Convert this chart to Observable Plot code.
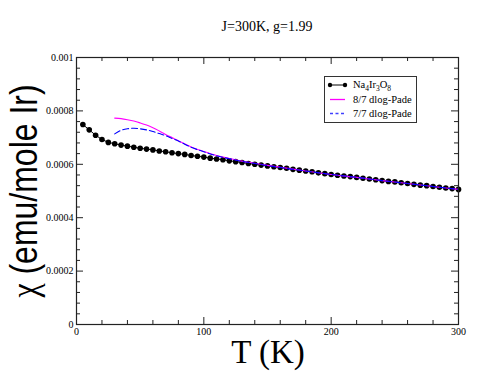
<!DOCTYPE html>
<html>
<head>
<meta charset="utf-8">
<script src="https://cdn.jsdelivr.net/npm/d3@7"></script>
<script src="https://cdn.jsdelivr.net/npm/@observablehq/plot@0.6"></script>
<style>
  html, body { margin: 0; padding: 0; background: #fff; }
</style>
</head>
<body>
<div id="chart"></div>
<script>
// ---- data ----
const temps = [5,10,15,20,25,30,35,40,45,50,55,60,65,70,75,80,85,90,95,100,
  105,110,115,120,125,130,135,140,145,150,155,160,165,170,175,180,185,190,195,200,
  205,210,215,220,225,230,235,240,245,250,255,260,265,270,275,280,285,290,295,300];
const chiMeasured = [749,729,709,693,682,677,672,668,664,660,657,654,650,647,643,640,637,633,630,627,
  623,620,617,613,610,607,603,600,597,594,591,588,585,581,578,575,572,568,565,562,
  559,556,554,551,548,545,542,539,536,534,531,528,525,522,520,517,514,511,509,506]; // x 1e-6

const padeTemps = [30,35,40,45,50,55,60,65,70,75,80,90,100,110,120,130,140,150,160,170,180,200,220,240,260,280,300];
const pade87 = [773,771,767,762,755,747,737,725,712,700,688,665,648,633,622,612,604,596,589,582,575,562,551,539,528,517,506];
const pade77 = [714,727,733,735,733,729,723,715,707,697,687,664,647,632,621,611,603,595,588,581,575,562,551,539,528,517,506];

const xTicks = [0, 100, 200, 300];
const xTickLabels = ["0", "100", "200", "300"];
const yTicks = [0, 0.0002, 0.0004, 0.0006, 0.0008, 0.001];
const yTickLabels = ["0", "0.0002", "0.0004", "0.0006", "0.0008", "0.001"];
const xMinor = [20,40,60,80,120,140,160,180,220,240,260,280];
const yMinor = [0.00004,0.00008,0.00012,0.00016,0.00024,0.00028,0.00032,0.00036,
  0.00044,0.00048,0.00052,0.00056,0.00064,0.00068,0.00072,0.00076,0.00084,0.00088,0.00092,0.00096];

const title = "J=300K, g=1.99";
const xLabel = "T (K)";
const yLabelSymbol = "\u03c7";
const yLabelRest = " (emu/mole Ir)";
const seriesNames = ["8/7 dlog-Pade", "7/7 dlog-Pade"];

// ---- tables ----
const measured = temps.map((t, i) => ({T: t, chi: chiMeasured[i] * 1e-6}));
const p87 = padeTemps.map((t, i) => ({T: t, chi: pade87[i] * 1e-6}));
const p77 = padeTemps.map((t, i) => ({T: t, chi: pade77[i] * 1e-6}));

const W = 494, H = 382;
const mTop = 57, mBottom = 58, mLeft = 76, mRight = 36;
const innerH = H - mTop - mBottom, innerW = W - mLeft - mRight;
const major = 7, minor = 4;
const serif = "'Liberation Serif', 'DejaVu Serif', serif";
const sans = "'Liberation Sans', Arial, sans-serif";

const svg = Plot.plot({
  width: W, height: H,
  marginTop: mTop, marginBottom: mBottom, marginLeft: mLeft, marginRight: mRight,
  style: {fontFamily: serif, fontSize: "10px", background: "#fff", color: "#000"},
  x: {domain: [0, 300]},
  y: {domain: [0, 0.001]},
  marks: [
    Plot.axisX({ticks: xTicks, tickSize: 0, tickPadding: 3, tickFormat: (d) => xTickLabels[xTicks.indexOf(d)], label: null, fontFamily: serif, fontSize: 10}),
    Plot.axisY({ticks: yTicks, tickSize: 0, tickPadding: 3, tickFormat: (d) => yTickLabels[yTicks.indexOf(d)], label: null, fontFamily: serif, fontSize: 10}),
    Plot.tickX(xTicks, {x: d => d, insetTop: innerH - major, stroke: "#222"}),
    Plot.tickX(xTicks, {x: d => d, insetBottom: innerH - major, stroke: "#222"}),
    Plot.tickX(xMinor, {x: d => d, insetTop: innerH - minor, stroke: "#222"}),
    Plot.tickX(xMinor, {x: d => d, insetBottom: innerH - minor, stroke: "#222"}),
    Plot.tickY(yTicks, {y: d => d, insetRight: innerW - major, stroke: "#222"}),
    Plot.tickY(yTicks, {y: d => d, insetLeft: innerW - major, stroke: "#222"}),
    Plot.tickY(yMinor, {y: d => d, insetRight: innerW - minor, stroke: "#222"}),
    Plot.tickY(yMinor, {y: d => d, insetLeft: innerW - minor, stroke: "#222"}),
    Plot.line(measured, {x: "T", y: "chi", stroke: "#000", strokeWidth: 1}),
    Plot.dot(measured, {x: "T", y: "chi", r: 2.8, fill: "#000", stroke: "none"}),
    Plot.line(p87, {x: "T", y: "chi", stroke: "#ff00ff", strokeWidth: 1.1, curve: "monotone-x"}),
    Plot.line(p77, {x: "T", y: "chi", stroke: "#0000ff", strokeWidth: 1.1, strokeDasharray: "6,3", curve: "monotone-x"}),
    Plot.frame({stroke: "#222", strokeWidth: 1.2})
  ]
});

document.getElementById("chart").appendChild(svg);
const s = d3.select(svg);

// title
s.append("text").attr("x", mLeft + innerW / 2).attr("y", 31)
  .attr("text-anchor", "middle").attr("font-family", serif).attr("font-size", 14)
  .attr("fill", "#000").text(title);

// x label
s.append("text").attr("x", 268).attr("y", 363)
  .attr("text-anchor", "middle").attr("font-family", serif).attr("font-size", 33)
  .attr("fill", "#000").text(xLabel);

// y label (glyphs stretched in height like the reference)
const yl = s.append("text").attr("transform", "translate(37,191) rotate(-90) scale(1,1.2)")
  .attr("text-anchor", "middle").attr("font-family", sans).attr("font-size", 32)
  .attr("fill", "#000");
yl.append("tspan").attr("font-family", serif).text(yLabelSymbol);
yl.append("tspan").text(yLabelRest);

// legend
const lg = s.append("g").attr("text-anchor", "start");
lg.append("rect").attr("x", 324.5).attr("y", 76.5).attr("width", 92).attr("height", 46)
  .attr("fill", "#fff").attr("stroke", "#333").attr("stroke-width", 1);
const rows = [85, 99.5, 113.5];
lg.append("line").attr("x1", 330).attr("x2", 345).attr("y1", rows[0]).attr("y2", rows[0]).attr("stroke", "#000");
lg.append("circle").attr("cx", 330).attr("cy", rows[0]).attr("r", 2.2).attr("fill", "#000");
lg.append("circle").attr("cx", 345).attr("cy", rows[0]).attr("r", 2.2).attr("fill", "#000");
const t1 = lg.append("text").attr("x", 353).attr("y", rows[0] + 3).attr("text-anchor", "start")
  .attr("font-family", serif).attr("font-size", 10.5).attr("fill", "#000");
t1.append("tspan").text("Na");
t1.append("tspan").attr("dy", 3).attr("font-size", 7.5).text("4");
t1.append("tspan").attr("dy", -3).text("Ir");
t1.append("tspan").attr("dy", 3).attr("font-size", 7.5).text("3");
t1.append("tspan").attr("dy", -3).text("O");
t1.append("tspan").attr("dy", 3).attr("font-size", 7.5).text("8");
lg.append("line").attr("x1", 330).attr("x2", 345).attr("y1", rows[1]).attr("y2", rows[1])
  .attr("stroke", "#ff00ff").attr("stroke-width", 1.3);
lg.append("text").attr("x", 353).attr("y", rows[1] + 3.5).attr("text-anchor", "start")
  .attr("font-family", serif).attr("font-size", 10.5).attr("fill", "#000").text(seriesNames[0]);
lg.append("line").attr("x1", 330).attr("x2", 345).attr("y1", rows[2]).attr("y2", rows[2])
  .attr("stroke", "#4040ff").attr("stroke-width", 1.3).attr("stroke-dasharray", "3,2.5");
lg.append("text").attr("x", 353).attr("y", rows[2] + 3.5).attr("text-anchor", "start")
  .attr("font-family", serif).attr("font-size", 10.5).attr("fill", "#000").text(seriesNames[1]);
</script>
</body>
</html>
